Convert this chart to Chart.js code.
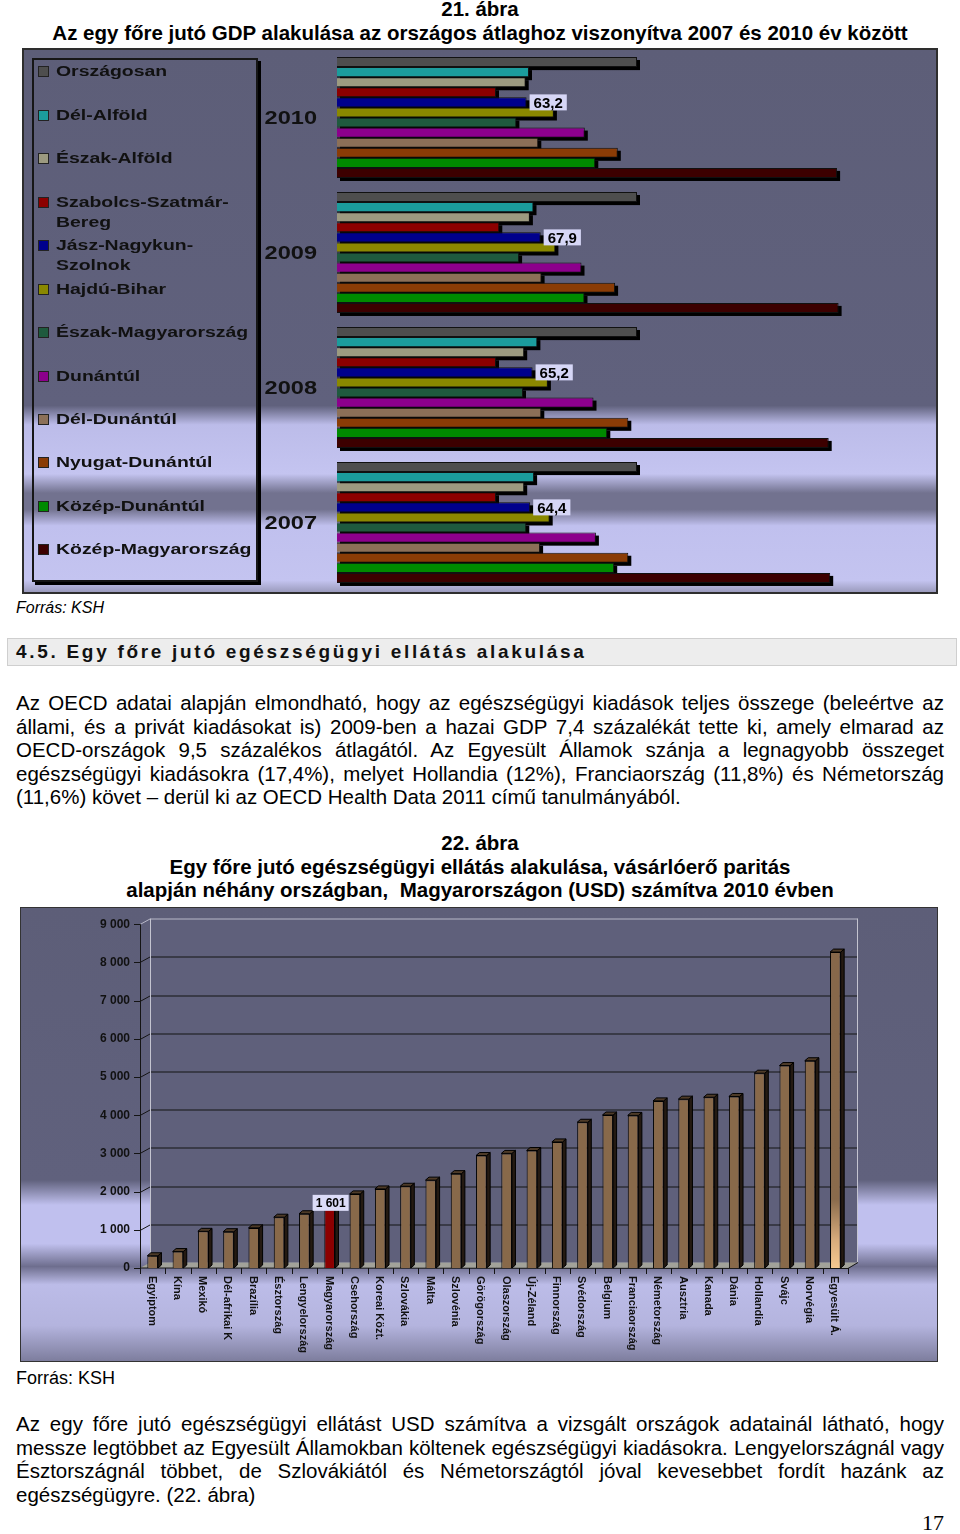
<!DOCTYPE html>
<html lang="hu">
<head>
<meta charset="utf-8">
<title>21. és 22. ábra</title>
<script src="https://cdn.jsdelivr.net/npm/chart.js@4.4.1/dist/chart.umd.min.js"></script>
<style>
  html, body { margin: 0; padding: 0; background: #fff; }
  body { width: 960px; height: 1534px; position: relative; overflow: hidden;
         font-family: "Liberation Sans", Arial, sans-serif; color: #000; }
  .abs { position: absolute; }
  canvas { display: block; }
  .cim { left: 0; width: 960px; text-align: center; font-weight: bold; font-size: 20.5px; line-height: 23.5px; }
  .sor { left: 16px; width: 928px; font-size: 20.5px; line-height: 23.5px; white-space: nowrap;
         text-align: justify; text-align-last: justify; }
  .utolso { text-align-last: left; }
  .keret { box-sizing: border-box; pointer-events: none; }
  #jelmagyarazat { left: 32px; top: 58px; width: 226px; height: 524px; box-sizing: border-box;
                   border: 2px solid #161616; box-shadow: 3px 3px 0 #000; }
  .tetel { position: absolute; left: 38px; font-weight: bold; font-size: 14.5px; line-height: 20px; color: #111; white-space: pre; }
  .tetel i { position: absolute; left: 0; top: 5px; width: 9px; height: 9px; border: 1px solid #222; }
  .tetel span { display: inline-block; margin-left: 18px; transform: scaleX(1.34); transform-origin: 0 50%; }
</style>
</head>
<body>

<div class="abs cim" style="top:-3px;">21. ábra<br>Az egy főre jutó GDP alakulása az országos átlaghoz viszonyítva 2007 és 2010 év között</div>

<div class="abs" style="left:22px;top:48px;width:916px;height:546px;">
  <canvas id="gdp" width="916" height="546"></canvas>
</div>
<div class="abs keret" style="left:22px;top:48px;width:916px;height:546px;border:2px solid #2e2e2e;"></div>
<div id="jelmagyarazat" class="abs"></div>
<div id="tetelek" class="abs" style="left:0;top:0;"></div>

<div class="abs" style="left:16px;top:598px;font-size:16px;line-height:20px;font-style:italic;">Forrás: KSH</div>

<div class="abs" style="left:7px;top:638px;width:950px;height:28px;box-sizing:border-box;background:#ededed;border:1px solid #cfcfcf;"></div>
<div class="abs" style="left:16px;top:640px;font-size:19px;line-height:24px;font-weight:bold;letter-spacing:2.7px;color:#111;white-space:nowrap;">4.5. Egy főre jutó egészségügyi ellátás alakulása</div>

<div class="abs sor" style="top:691px;">Az OECD adatai alapján elmondható, hogy az egészségügyi kiadások teljes összege (beleértve az</div>
<div class="abs sor" style="top:714.5px;">állami, és a privát kiadásokat is) 2009-ben a hazai GDP 7,4 százalékát tette ki, amely elmarad az</div>
<div class="abs sor" style="top:738px;">OECD-országok 9,5 százalékos átlagától. Az Egyesült Államok szánja a legnagyobb összeget</div>
<div class="abs sor" style="top:761.5px;">egészségügyi kiadásokra (17,4%), melyet Hollandia (12%), Franciaország (11,8%) és Németország</div>
<div class="abs sor utolso" style="top:785px;">(11,6%) követ – derül ki az OECD Health Data 2011 című tanulmányából.</div>

<div class="abs cim" style="top:831px;">22. ábra<br>Egy főre jutó egészségügyi ellátás alakulása, vásárlóerő paritás<br>alapján néhány országban,&nbsp; Magyarországon (USD) számítva 2010 évben</div>

<div class="abs" style="left:20px;top:907px;width:918px;height:455px;">
  <canvas id="egeszseg" width="918" height="455"></canvas>
</div>
<div class="abs keret" style="left:20px;top:907px;width:918px;height:455px;border:1px solid #333;"></div>

<div class="abs" style="left:16px;top:1367px;font-size:18px;line-height:22px;">Forrás: KSH</div>

<div class="abs sor" style="top:1412px;">Az egy főre jutó egészségügyi ellátást USD számítva a vizsgált országok adatainál látható, hogy</div>
<div class="abs sor" style="top:1435.5px;">messze legtöbbet az Egyesült Államokban költenek egészségügyi kiadásokra. Lengyelországnál vagy</div>
<div class="abs sor" style="top:1459px;">Észtországnál többet, de Szlovákiától és Németországtól jóval kevesebbet fordít hazánk az</div>
<div class="abs sor utolso" style="top:1482.5px;">egészségügyre. (22. ábra)</div>

<div class="abs" style="left:900px;top:1511px;width:44px;text-align:right;font-family:'Liberation Serif',serif;font-size:22px;line-height:24px;">17</div>

<script>
// 21. ábra – országos átlag = 100
const evek = ['2010', '2009', '2008', '2007'];
const regiok = ['Országosan', 'Dél-Alföld', 'Észak-Alföld', 'Szabolcs-Szatmár-Bereg', 'Jász-Nagykun-Szolnok',
  'Hajdú-Bihar', 'Észak-Magyarország', 'Dunántúl', 'Dél-Dunántúl', 'Nyugat-Dunántúl', 'Közép-Dunántúl', 'Közép-Magyarország'];
const orszagosan = [100, 100, 100, 100];
const delAlfold = [64.0, 65.5, 66.8, 65.7];
const eszakAlfold = [62.9, 64.3, 62.4, 62.4];
const szabolcs = [53.0, 54.1, 53.0, 53.0];
const jasz = [63.2, 67.9, 65.2, 64.4];
const hajdu = [72.3, 72.8, 70.3, 70.9];
const eszakMo = [59.8, 60.7, 62.0, 63.1];
const dunantul = [82.6, 81.5, 85.5, 86.3];
const delDunantul = [67.1, 68.2, 68.1, 67.7];
const nyugatDunantul = [93.6, 92.7, 97.1, 97.1];
const kozepDunantul = [86.1, 82.5, 90.1, 92.4];
const kozepMo = [166.7, 167.2, 163.9, 164.4];

// 22. ábra – USD, 2010
const orszagok = ['Egyiptom', 'Kína', 'Mexikó', 'Dél-afrikai K', 'Brazília', 'Észtország', 'Lengyelország',
  'Magyarország', 'Csehország', 'Koreai Közt.', 'Szlovákia', 'Málta', 'Szlovénia', 'Görögország', 'Olaszország',
  'Új-Zéland', 'Finnország', 'Svédország', 'Belgium', 'Franciaország', 'Németország', 'Ausztria', 'Kanada',
  'Dánia', 'Hollandia', 'Svájc', 'Norvégia', 'Egyesült Á.'];
const kiadasUSD = [320, 430, 960, 950, 1050, 1330, 1420, 1601, 1940, 2070, 2140, 2300, 2470, 2945, 3000,
  3075, 3300, 3815, 4005, 3995, 4375, 4420, 4470, 4490, 5100, 5300, 5425, 8270];

const sorozatok = [orszagosan, delAlfold, eszakAlfold, szabolcs, jasz, hajdu, eszakMo, dunantul,
  delDunantul, nyugatDunantul, kozepDunantul, kozepMo];
const szinek = ['#4e4e4e', '#1b9c9c', '#9c9a80', '#8c0000', '#00008c', '#8a8800', '#1f5a3e', '#8c008c',
  '#8c7058', '#8a3c06', '#008a00', '#3c0000'];
const FONT = '"Liberation Sans", Arial, sans-serif';

// jelmagyarázat
const tetelTop = [61, 105, 148, 192, 235, 279, 322, 366, 409, 452, 496, 539];
let html = '';
regiok.forEach(function (r, i) {
  const szoveg = r.replace(/(Szatmár-|Nagykun-)/, '$1\n');
  html += '<div class="tetel" style="top:' + tetelTop[i] + 'px"><i style="background:' + szinek[i] + '"></i><span>' + szoveg + '</span></div>';
});
document.getElementById('tetelek').innerHTML = html;

const hatter1 = {
  id: 'hatter1',
  beforeDraw(chart) {
    const c = chart.ctx, h = chart.height;
    const g = c.createLinearGradient(0, 0, 0, h);
    g.addColorStop(0, '#5d5e78');
    g.addColorStop(0.655, '#60617d');
    g.addColorStop(0.69, '#bcbce9');
    g.addColorStop(0.78, '#c4c4f0');
    g.addColorStop(0.815, '#72728f');
    g.addColorStop(0.845, '#72728f');
    g.addColorStop(0.875, '#c0c0ee');
    g.addColorStop(0.975, '#c4c4f0');
    g.addColorStop(1, '#9494b4');
    c.fillStyle = g;
    c.fillRect(0, 0, chart.width, h);
  }
};

const arnyek = {
  id: 'arnyek',
  beforeDatasetsDraw(chart) {
    const c = chart.ctx;
    c.save();
    c.fillStyle = '#000';
    chart.data.datasets.forEach(function (ds, i) {
      chart.getDatasetMeta(i).data.forEach(function (el) {
        c.fillRect(el.base + 3, el.y - el.height / 2 + 3, el.x - el.base, el.height);
      });
    });
    c.restore();
  }
};

const evCimkek = {
  id: 'evCimkek',
  afterDraw(chart) {
    const c = chart.ctx, y = chart.scales.y;
    c.save();
    c.font = 'bold 19px ' + FONT;
    c.fillStyle = '#111';
    c.textAlign = 'right';
    c.textBaseline = 'middle';
    evek.forEach(function (ev, i) {
      c.save();
      c.translate(chart.chartArea.left - 20, y.getPixelForValue(i) + 1);
      c.scale(1.24, 1);
      c.fillText(ev, 0, 0);
      c.restore();
    });
    // érték címke a Jász-Nagykun-Szolnok oszlopokon
    c.font = 'bold 15px ' + FONT;
    c.textAlign = 'left';
    chart.getDatasetMeta(4).data.forEach(function (el, i) {
      const t = jasz[i].toFixed(1).replace('.', ',');
      const w = c.measureText(t).width + 8;
      c.fillStyle = '#d6d6f6';
      c.fillRect(el.x + 3, el.y - 8, w, 16);
      c.fillStyle = '#000';
      c.fillText(t, el.x + 7, el.y + 1);
    });
    c.restore();
  }
};

new Chart(document.getElementById('gdp').getContext('2d'), {
  type: 'bar',
  data: {
    labels: evek,
    datasets: sorozatok.map(function (s, i) {
      return {
        label: regiok[i], data: s, backgroundColor: szinek[i], borderColor: '#111', borderWidth: 1,
        categoryPercentage: 0.896, barPercentage: 1
      };
    })
  },
  options: {
    indexAxis: 'y',
    responsive: false,
    animation: false,
    layout: { padding: { left: 245, top: 2, bottom: 4, right: 1 } },
    scales: {
      x: { min: 0, max: 200, display: false },
      y: { grid: { display: false }, border: { display: false }, ticks: { display: false },
           afterFit(s) { s.width = 70; } }
    },
    plugins: { legend: { display: false }, tooltip: { enabled: false } }
  },
  plugins: [hatter1, arnyek, evCimkek]
});

// 22. ábra
const DX = 10, DY = -5.5;

const hatter2 = {
  id: 'hatter2',
  beforeDraw(chart) {
    const c = chart.ctx, h = chart.height;
    const g = c.createLinearGradient(0, 0, 0, h);
    g.addColorStop(0, '#5d5e78');
    g.addColorStop(0.6, '#60617d');
    g.addColorStop(0.655, '#c0c0ee');
    g.addColorStop(0.74, '#c0c0ee');
    g.addColorStop(0.79, '#6e6e8e');
    g.addColorStop(0.83, '#bcbce8');
    g.addColorStop(0.92, '#b4b4de');
    g.addColorStop(1, '#7c7c9c');
    c.fillStyle = g;
    c.fillRect(0, 0, chart.width, h);
  },
  beforeDatasetsDraw(chart) {
    const c = chart.ctx, a = chart.chartArea, y = chart.scales.y;
    c.save();
    // hátfal
    c.fillStyle = '#5f607b';
    c.fillRect(a.left + DX, a.top + DY, a.right - a.left, a.bottom - a.top);
    // padló
    c.fillStyle = '#a2a29a';
    c.beginPath();
    c.moveTo(a.left, a.bottom);
    c.lineTo(a.left + DX, a.bottom + DY);
    c.lineTo(a.right + DX, a.bottom + DY);
    c.lineTo(a.right, a.bottom);
    c.closePath();
    c.fill();
    // rácsvonalak
    c.lineWidth = 1;
    y.ticks.forEach(function (t) {
      const py = Math.round(y.getPixelForValue(t.value)) + 0.5;
      c.strokeStyle = '#141414';
      c.beginPath();
      c.moveTo(a.left - 6, py);
      c.lineTo(a.left, py);
      c.stroke();
      if (t.value === 0) return;
      c.strokeStyle = t.value === y.max ? '#b8b8c8' : '#141414';
      c.beginPath();
      c.moveTo(a.left, py);
      c.lineTo(a.left + DX, py + DY);
      c.lineTo(a.right + DX, py + DY);
      c.stroke();
    });
    // oldalfal élek
    c.strokeStyle = '#c4c4d0';
    c.beginPath();
    c.moveTo(a.left + DX + 0.5, a.top + DY);
    c.lineTo(a.left + DX + 0.5, a.bottom + DY);
    c.moveTo(a.right + DX - 0.5, a.top + DY);
    c.lineTo(a.right + DX - 0.5, a.bottom + DY);
    c.stroke();
    c.strokeStyle = '#141414';
    c.beginPath();
    c.moveTo(a.left + 0.5, a.top);
    c.lineTo(a.left + 0.5, a.bottom);
    c.lineTo(a.right, a.bottom + 0.5);
    c.lineTo(a.right + DX, a.bottom + DY);
    c.stroke();
    // x tengely osztások
    const lepes = (a.right - a.left) / orszagok.length;
    c.beginPath();
    for (let k = 0; k <= orszagok.length; k++) {
      const px = Math.round(a.left + k * lepes) + 0.5;
      c.moveTo(px, a.bottom);
      c.lineTo(px, a.bottom + 6);
    }
    c.stroke();
    c.restore();
  },
  afterDatasetsDraw(chart) {
    const c = chart.ctx;
    const d = 3.5, dd = -3;
    c.save();
    c.strokeStyle = '#000';
    c.lineWidth = 1;
    chart.getDatasetMeta(0).data.forEach(function (el) {
      const l = el.x - el.width / 2, r = el.x + el.width / 2;
      c.fillStyle = '#241a12';
      c.beginPath();
      c.moveTo(r, el.y); c.lineTo(r + d, el.y + dd); c.lineTo(r + d, el.base + dd); c.lineTo(r, el.base);
      c.closePath(); c.fill(); c.stroke();
      c.fillStyle = '#4e3b28';
      c.beginPath();
      c.moveTo(l, el.y); c.lineTo(l + d, el.y + dd); c.lineTo(r + d, el.y + dd); c.lineTo(r, el.y);
      c.closePath(); c.fill(); c.stroke();
    });
    c.restore();
  },
  afterDraw(chart) {
    const c = chart.ctx, a = chart.chartArea, x = chart.scales.x;
    c.save();
    c.font = 'bold 11px ' + FONT;
    c.fillStyle = '#111';
    c.textAlign = 'left';
    c.textBaseline = 'middle';
    orszagok.forEach(function (o, i) {
      c.save();
      c.translate(x.getPixelForValue(i) - 1, a.bottom + 8);
      c.rotate(Math.PI / 2);
      c.fillText(o, 0, 0);
      c.restore();
    });
    // Magyarország címke
    const hu = orszagok.indexOf('Magyarország');
    const el = chart.getDatasetMeta(0).data[hu];
    const t = ezres(kiadasUSD[hu]);
    c.font = 'bold 12px ' + FONT;
    const w = c.measureText(t).width + 6;
    c.fillStyle = '#dcdcf8';
    c.fillRect(el.x - w / 2 + 1, el.y - 12, w, 16);
    c.fillStyle = '#000';
    c.textAlign = 'center';
    c.fillText(t, el.x + 1, el.y - 3.5);
    c.restore();
  }
};

function ezres(v) {
  return String(v).replace(/\B(?=(\d{3})+(?!\d))/g, ' ');
}

new Chart(document.getElementById('egeszseg').getContext('2d'), {
  type: 'bar',
  data: {
    labels: orszagok,
    datasets: [{
      data: kiadasUSD,
      backgroundColor: function (ctx) {
        const o = orszagok[ctx.dataIndex];
        if (o === 'Magyarország') return '#8c0000';
        const a = ctx.chart.chartArea;
        if (ctx.dataIndex === orszagok.length - 1 && a) {
          const g = ctx.chart.ctx.createLinearGradient(0, a.top, 0, a.bottom);
          g.addColorStop(0, '#86674a');
          g.addColorStop(0.8, '#8a6b4c');
          g.addColorStop(0.92, '#d8ac7c');
          g.addColorStop(1, '#f6c890');
          return g;
        }
        return '#88694a';
      },
      borderColor: '#000',
      borderWidth: 1,
      barPercentage: 0.42,
      categoryPercentage: 1
    }]
  },
  options: {
    responsive: false,
    animation: false,
    layout: { padding: { left: 0, top: 13, right: 90, bottom: 94 } },
    scales: {
      x: { grid: { display: false, drawTicks: false }, border: { display: false }, ticks: { display: false },
           afterFit(s) { s.height = 0; } },
      y: {
        min: 0, max: 9000,
        grid: { display: false, drawTicks: false },
        border: { display: false },
        ticks: { stepSize: 1000, padding: 10, color: '#111', font: { family: FONT, size: 12, weight: 'bold' },
                 callback: function (v) { return ezres(v); } },
        afterFit(s) { s.width = 120; }
      }
    },
    plugins: { legend: { display: false }, tooltip: { enabled: false } }
  },
  plugins: [hatter2]
});
</script>
</body>
</html>
